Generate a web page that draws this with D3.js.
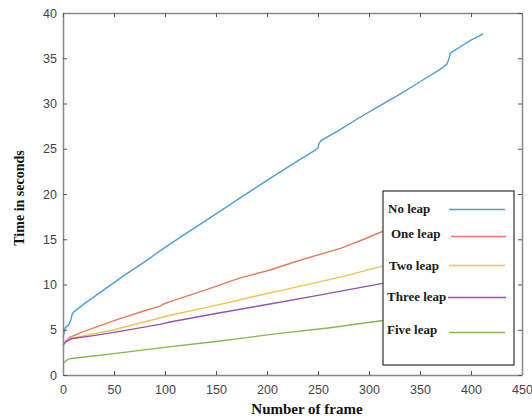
<!DOCTYPE html>
<html>
<head>
<meta charset="utf-8">
<script src="https://cdn.jsdelivr.net/npm/d3@7"></script>
<style>
  body { margin: 0; background: #fff; }
  svg { display: block; }
</style>
</head>
<body>
<script>
// series names (legend order)
const seriesNames = ["No leap", "One leap", "Two leap", "Three leap", "Five leap"]

// [frame, seconds]
const noLeap = [[0,4.2],[1,4.6],[2,5.2],[4,5.4],[6,5.6],[8,6.2],[9,6.7],[10,6.9],[20,7.8],[30,8.6],[40,9.4],[50,10.2],[60,11.0],[80,12.5],[100,14.1],[120,15.6],[150,17.8],[170,19.3],[200,21.5],[225,23.3],[248,24.9],[250,25.1],[251,25.6],[253,25.9],[270,27.0],[290,28.4],[310,29.7],[330,31.0],[350,32.4],[370,33.8],[376,34.3],[378,34.8],[380,35.6],[390,36.3],[400,37.0],[412,37.7]]
const oneLeap = [[0,3.3],[3,3.8],[7,4.2],[20,4.8],[50,6.0],[80,7.1],[95,7.6],[100,7.9],[105,8.1],[140,9.4],[173,10.7],[203,11.6],[230,12.6],[272,14.0],[295,15.0],[312,15.8],[340,17.0],[380,18.8]]
const twoLeap = [[0,3.3],[5,3.9],[10,4.1],[50,5.0],[95,6.3],[105,6.6],[150,7.7],[200,9.0],[212,9.3],[275,10.9],[312,12.0],[380,14.0]]
const threeLeap = [[0,3.3],[3,3.7],[8,4.0],[30,4.35],[60,4.9],[95,5.6],[105,5.85],[150,6.8],[203,7.85],[250,8.8],[312,10.1],[380,11.5]]
const fiveLeap = [[0,1.2],[2,1.5],[5,1.75],[10,1.85],[30,2.1],[60,2.5],[95,3.0],[150,3.7],[212,4.6],[260,5.2],[312,6.0],[380,6.9]]

const xTicks = [0, 50, 100, 150, 200, 250, 300, 350, 400, 450]
const yTicks = [0, 5, 10, 15, 20, 25, 30, 35, 40]

const colors = ["#4a9fdb", "#e57b5c", "#f0c24f", "#9a52ae", "#84ba4c"]
const allSeries = [noLeap, oneLeap, twoLeap, threeLeap, fiveLeap]

const w = 532, h = 420
const padL = 63, padR = 522, padT = 13, padB = 375

const svg = d3.select("body").append("svg")
  .attr("width", w)
  .attr("height", h)

const x = d3.scaleLinear().domain([0, 450]).range([padL, padR])
const y = d3.scaleLinear().domain([0, 40]).range([padB, padT])

// lines
const line = d3.line().x(d => x(d[0])).y(d => y(d[1]))
svg.selectAll("path.series")
  .data(allSeries)
  .enter()
  .append("path")
  .attr("class", "series")
  .attr("d", line)
  .attr("fill", "none")
  .attr("stroke", (d, i) => colors[i])
  .attr("stroke-width", 1.4)

// axes (matlab style box, ticks inward)
const axisColor = "#888"
function styleAxis(g, showText) {
  g.select(".domain").attr("stroke", axisColor).attr("stroke-width", 1.5)
  g.selectAll(".tick line").attr("stroke", "#555")
  g.selectAll(".tick text")
    .attr("fill", "#444")
    .style("font-family", "'Liberation Sans', Arial, sans-serif")
    .style("font-size", "12.5px")
  if (!showText) g.selectAll(".tick text").remove()
}

svg.append("g")
  .attr("transform", `translate(0,${padB})`)
  .call(d3.axisBottom(x).tickValues(xTicks).tickSize(-4).tickPadding(10).tickSizeOuter(0))
  .call(g => styleAxis(g, true))

svg.append("g")
  .attr("transform", `translate(${padL},0)`)
  .call(d3.axisLeft(y).tickValues(yTicks).tickSize(-4).tickPadding(6).tickSizeOuter(0))
  .call(g => styleAxis(g, true))

svg.append("g")
  .attr("transform", `translate(0,${padT})`)
  .call(d3.axisTop(x).tickValues(xTicks).tickSize(-4).tickSizeOuter(0))
  .call(g => styleAxis(g, false))

svg.append("g")
  .attr("transform", `translate(${padR},0)`)
  .call(d3.axisRight(y).tickValues(yTicks).tickSize(-4).tickSizeOuter(0))
  .call(g => styleAxis(g, false))

// axis titles
svg.append("text")
  .attr("x", 307)
  .attr("y", 414)
  .attr("text-anchor", "middle")
  .style("font-family", "'Liberation Serif', 'Times New Roman', serif")
  .style("font-weight", "bold")
  .style("font-size", "15px")
  .attr("fill", "#111")
  .text("Number of frame")

svg.append("text")
  .attr("transform", "translate(24,198) rotate(-90)")
  .attr("text-anchor", "middle")
  .style("font-family", "'Liberation Serif', 'Times New Roman', serif")
  .style("font-weight", "bold")
  .style("font-size", "14px")
  .attr("fill", "#111")
  .text("Time in seconds")

// legend
const legend = svg.append("g").attr("id", "legend")
legend.append("rect")
  .attr("x", 383)
  .attr("y", 191)
  .attr("width", 131)
  .attr("height", 174)
  .attr("fill", "#fff")
  .attr("stroke", "#333")
  .attr("stroke-width", 1.2)

const legendText = [[388, 213], [391, 238], [389, 270], [387, 301], [387, 334]]
const legendLine = [[449, 505, 209.5], [451, 506, 236.5], [449, 505, 265.5], [448, 506, 297.5], [449, 505, 332.5]]

seriesNames.forEach((name, i) => {
  legend.append("line")
    .attr("x1", legendLine[i][0])
    .attr("x2", legendLine[i][1])
    .attr("y1", legendLine[i][2])
    .attr("y2", legendLine[i][2])
    .attr("stroke", colors[i])
    .attr("stroke-width", 1.4)
  legend.append("text")
    .attr("x", legendText[i][0])
    .attr("y", legendText[i][1])
    .style("font-family", "'Liberation Serif', 'Times New Roman', serif")
    .style("font-weight", "bold")
    .style("font-size", "13px")
    .attr("fill", "#1a1a1a")
    .text(name)
})
</script>
</body>
</html>
